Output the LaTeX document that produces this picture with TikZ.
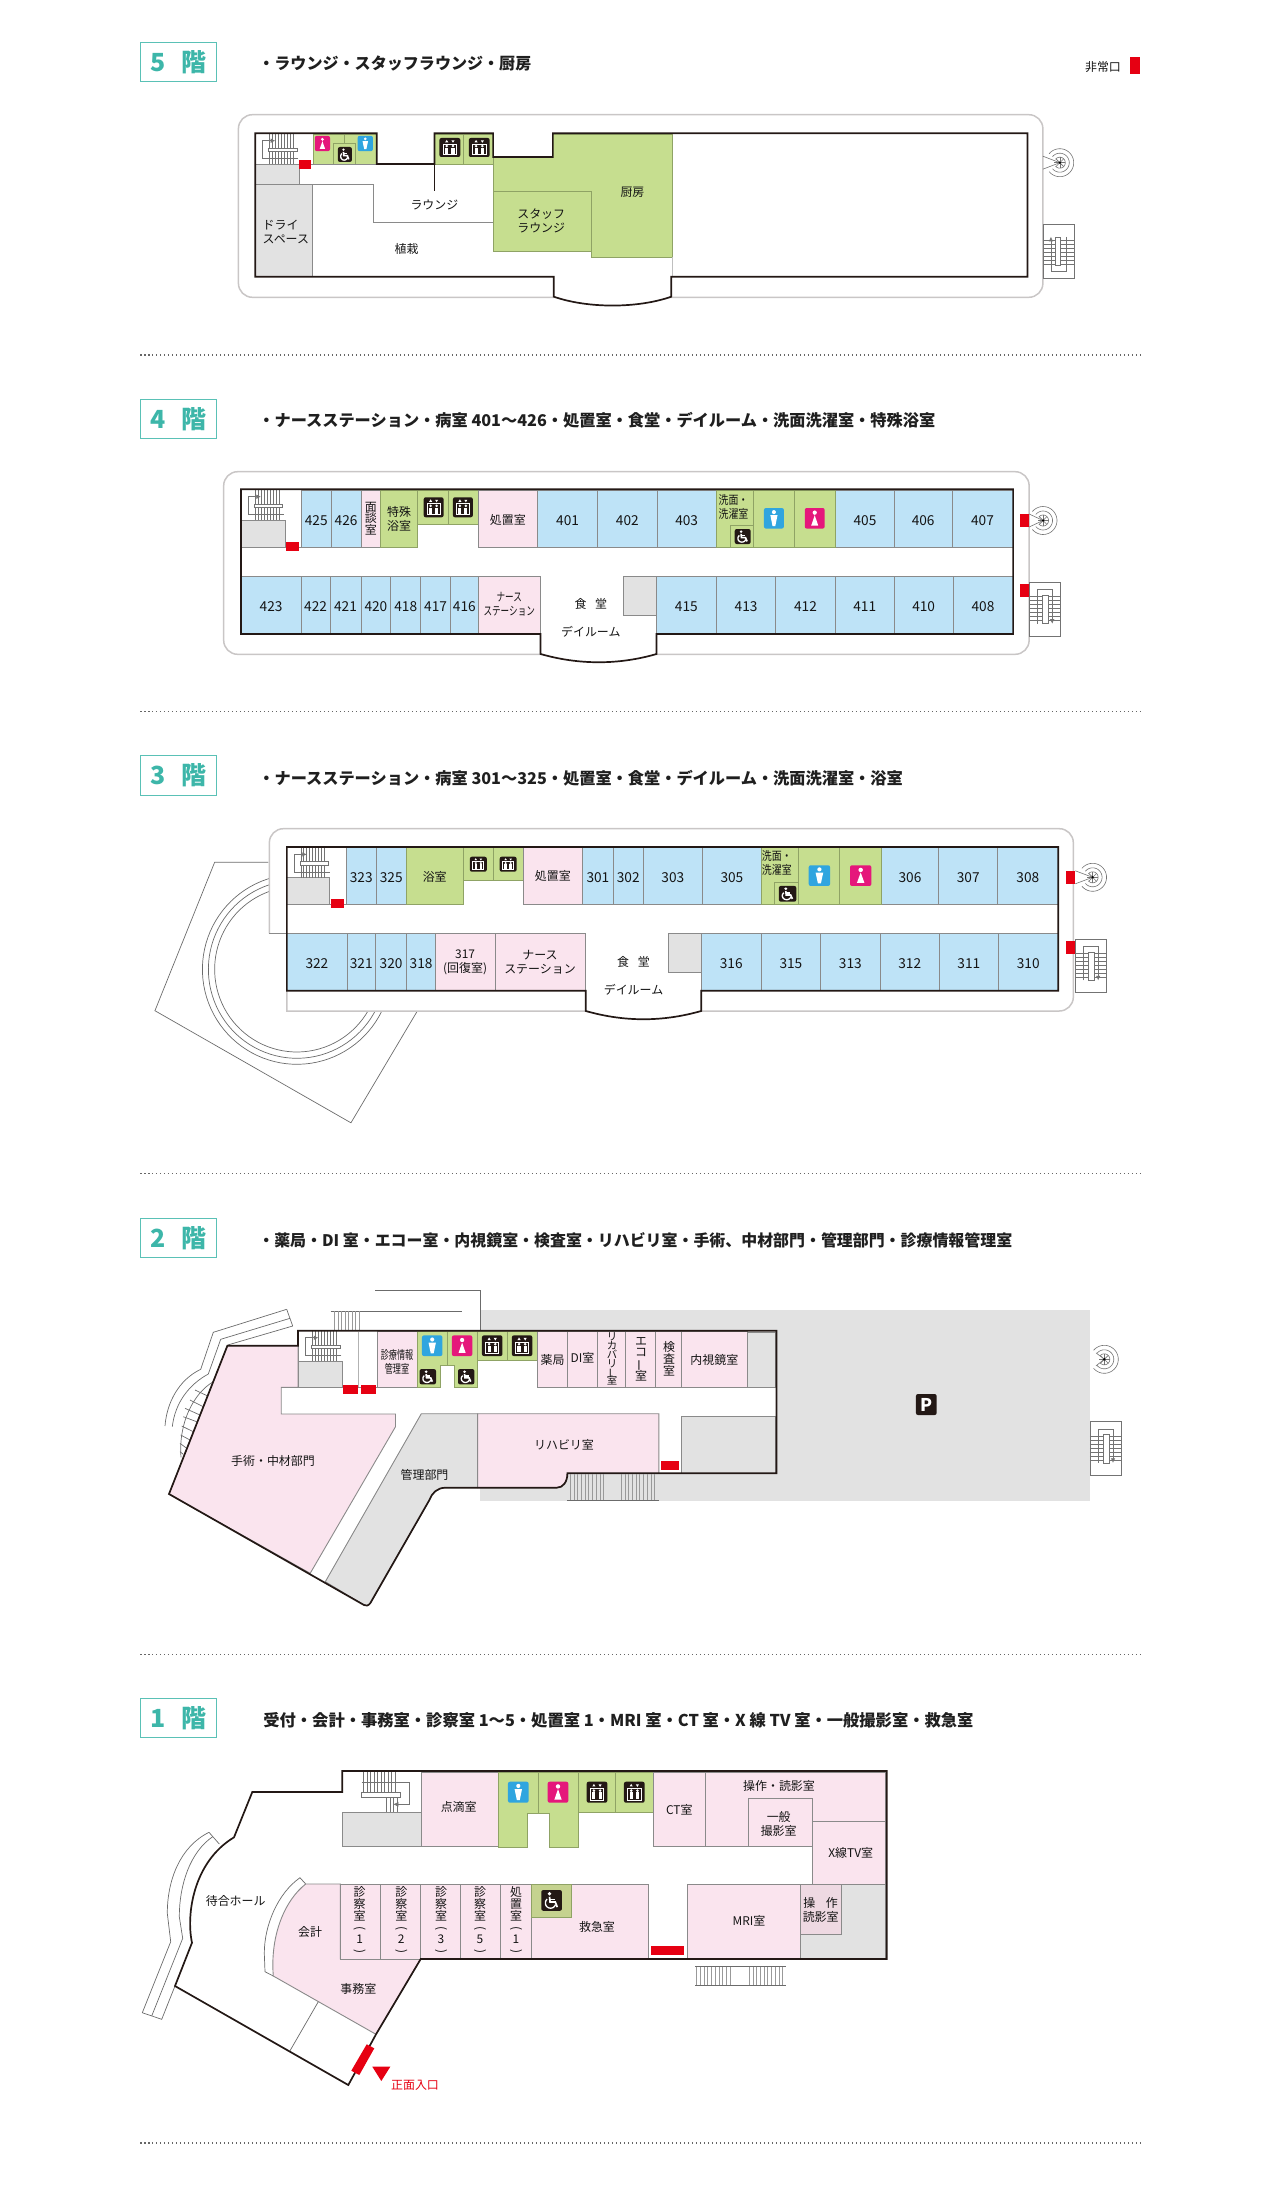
\documentclass[tikz,border=0pt]{standalone}
\usepackage{fontspec}
\setmainfont{Noto Sans CJK JP}
\usetikzlibrary{arrows.meta}

\definecolor{roomblue}{HTML}{BEE3F7}
\definecolor{roompink}{HTML}{FAE4EE}
\definecolor{roomgreen}{HTML}{C6DE8F}
\definecolor{edgegreen}{HTML}{8FA365}
\definecolor{roomgray}{HTML}{E2E2E2}
\definecolor{roomoper}{HTML}{EED9E2}
\definecolor{roomolive}{HTML}{C5D28F}
\definecolor{wallblack}{HTML}{231815}
\definecolor{wallgray}{HTML}{C9C6C6}
\definecolor{linegray}{HTML}{8A8A8A}
\definecolor{redmark}{HTML}{E60012}
\definecolor{badgeteal}{HTML}{3DB6A9}
\definecolor{manblue}{HTML}{2FA5DF}
\definecolor{womanpink}{HTML}{E5177B}

\newcommand{\tightfont}[2]{\fontsize{#1}{#2}\selectfont\lineskiplimit=-10pt\relax}
\newcommand{\vpl}{\rotatebox[origin=c]{270}{(}}
\newcommand{\vpr}{\rotatebox[origin=c]{270}{)}}
\newcommand{\vbar}{\rotatebox[origin=c]{90}{ー}}
\newcommand{\narrow}[2]{\scalebox{#1}[1]{#2}}

\tikzset{
  wall/.style={draw=wallblack,line width=0.034cm,line join=miter},
  outerwall/.style={draw=wallgray,line width=0.03cm},
  thinline/.style={draw=linegray,line width=0.018cm},
  stairline/.style={draw=black!55,line width=0.012cm},
  hatchline/.style={draw=black!40,line width=0.016cm},
  planline/.style={draw=black!58,line width=0.014cm},
  bluerm/.style={fill=roomblue,thinline},
  pinkrm/.style={fill=roompink,thinline},
  greenrm/.style={fill=roomgreen,draw=edgegreen,line width=0.016cm},
  grayrm/.style={fill=roomgray,thinline},
  redmk/.style={fill=redmark},
  lbl/.style={font=\tightfont{6.8}{8},inner sep=0pt,align=center,text=black!92},
  vlbl/.style={font=\tightfont{6.8}{6.7},inner sep=0pt,align=center,text=black!92},
  numlbl/.style={font=\fontsize{7.8}{8}\selectfont,inner sep=0pt,text=black!92},
  badgebox/.style={draw=badgeteal!85,line width=0.02cm},
  badgelbl/.style={font=\fontsize{14.2}{15}\bfseries\selectfont,text=badgeteal,inner sep=0pt},
  titlelbl/.style={font=\fontsize{#1}{10}\bfseries\selectfont,anchor=west,inner sep=0pt,text=black!88},
  sepline/.style={draw=black!60,line width=0.026cm,dash pattern=on 0.03cm off 0.05cm},
}

\newcommand{\manicon}[4]{\begin{scope}[shift={(#1,#2)},xscale=#3/20,yscale=#4/20]
  \fill[manblue,rounded corners=0.04cm] (-10,-10) rectangle (10,10);
  \fill[white] (0,-6) circle[radius=2];
  \fill[white] (-3.6,-3) -- (3.6,-3) -- (1.4,7.5) -- (-1.4,7.5) -- cycle;
\end{scope}}
\newcommand{\womanicon}[4]{\begin{scope}[shift={(#1,#2)},xscale=#3/20,yscale=#4/20]
  \fill[womanpink,rounded corners=0.04cm] (-10,-10) rectangle (10,10);
  \fill[white] (0,-5.5) circle[radius=2.1];
  \fill[white] (0,-3) -- (3.5,7) -- (-3.5,7) -- cycle;
\end{scope}}
\newcommand{\elevicon}[4]{\begin{scope}[shift={(#1,#2)},xscale=#3/20,yscale=#4/20]
  \fill[wallblack,rounded corners=0.04cm] (-10,-10) rectangle (10,10);
  \draw[white,line width=0.016cm] (-6.5,-3.5) rectangle (6.5,7.5);
  \foreach \fx in {-3,3} {
    \fill[white] (\fx,-1.5) circle[radius=1.4];
    \fill[white] (\fx-1.5,0.2) rectangle (\fx+1.5,6.5);
  }
  \fill[white] (-3,-8) -- (-1.5,-5.5) -- (-4.5,-5.5) -- cycle;
  \fill[white] (3,-5) -- (1.5,-7.5) -- (4.5,-7.5) -- cycle;
\end{scope}}
\newcommand{\wheelicon}[4]{\begin{scope}[shift={(#1,#2)},xscale=#3/20,yscale=#4/20]
  \fill[wallblack,rounded corners=0.04cm] (-10,-10) rectangle (10,10);
  \fill[white] (-2,-6.5) circle[radius=1.8];
  \draw[white,line width=0.034cm] (-2,-3.5) -- (-1.5,1.5) -- (3.5,1.5) -- (5.5,6.5);
  \draw[white,line width=0.026cm] (-1.8,-1) -- (3,-1);
  \draw[white,line width=0.026cm] plot[domain=130:340,samples=16] ({-1+5*cos(\x)},{2.5-5*sin(\x)});
\end{scope}}

% spiral stair: centre, x of the wall it opens to
\newcommand{\spiralstair}[3]{\begin{scope}[stairline]
  \foreach \rr in {14,9.5,5.5}
    \draw plot[domain=-140:140,samples=30] ({#1+\rr*cos(\x)},{#2+\rr*sin(\x)});
  \foreach \aa in {0,45,...,315}
    \draw (#1,#2) -- ({#1+5.5*cos(\aa)},{#2+5.5*sin(\aa)});
  \draw (#3,#2-6.5) -- (#1,#2) -- (#3,#2+6.5);
  \fill[black] (#1,#2) circle[radius=1.3];
\end{scope}}
% box stair: centre, extra scope options
\newcommand{\stairbox}[3]{\begin{scope}[shift={(#1,#2)},#3]
  \draw[stairline,fill=white] (-15.5,-26.6) rectangle (15.5,26.6);
  \foreach \dy in {-12.5,-8.5,...,11.5}
    \draw[stairline] (-15.5,\dy) -- (15.5,\dy);
  \draw[stairline,fill=white] (-2,-14) rectangle (3.5,14.5);
  \draw[stairline,-{Latex[length=0.09cm,width=0.09cm]}] (-7.5,14.5) -- (-7.5,-19.5) -- (7.7,-19.5) -- (7.7,14.5);
\end{scope}}
% stair in the top left corner of a floor
\newcommand{\stairtl}[2]{\begin{scope}[shift={(#1,#2)}]
  \foreach \dx in {14,17,...,38}
    \draw[stairline] (\dx,0) -- (\dx,30);
  \draw[stairline,fill=white] (13,14) rectangle (42,17.7);
  \draw[stairline,-{Latex[length=0.09cm,width=0.09cm]}] (43,24.3) -- (7,24.3) -- (7,6.7) -- (20,6.7);
\end{scope}}

\def\wallfive{(256,133.3) -- (378,133.3) -- (378,164) -- (436,164) -- (436,133.3) -- (495,133.3) -- (495,157) -- (555,157) -- (555,133.3) -- (1032,133.3) -- (1032,276.7) -- (674,276.7) -- (674,296.7) .. controls (640,308.5) and (590,308.5) .. (556,296.7) -- (556,276.7) -- (256,276.7) -- cycle}
\def\wallfour{(240.4,489.3) -- (1016.4,489.3) -- (1016.4,634) -- (658,634) -- (658,654) .. controls (620,665) and (580,665) .. (541.5,654) -- (541.5,634) -- (240.4,634) -- cycle}
\def\wallthree{(287.6,847) -- (1062.8,847) -- (1062.8,990.7) -- (704,990.7) -- (704,1011) .. controls (665,1022) and (627,1022) .. (588,1011) -- (588,990.7) -- (287.6,990.7) -- cycle}
\def\walltwo{(298,1330.7) -- (776.4,1330.7) -- (776.4,1473.3) -- (567.4,1473.3) .. controls (567.4,1482) and (563,1487.7) .. (556.8,1487.7) -- (445.7,1487.7) .. controls (437,1487.7) and (432,1493) .. (429.4,1500) -- (370.2,1603.3) .. controls (368,1606) and (366,1606) .. (364,1605) -- (169,1494) -- (227.4,1345.7) -- (298,1345.7) -- cycle}
\def\wallone{(342.3,1771) -- (886.7,1771) -- (886.7,1959) -- (420.7,1959) -- (376,2034.3) -- (348.3,2085) -- (175,1986) -- (192,1942.7) .. controls (186,1915) and (193,1862) .. (234,1837.3) -- (252.3,1792) -- (342.3,1792) -- cycle}

\begin{document}
\begin{tikzpicture}[x=0.02cm,y=-0.02cm]
\useasboundingbox (0,0) rectangle (1280,2200);

% badges, titles and dotted rules
\foreach \fl/\ya/\yb in {5/42.7/82,4/399/438.7,3/755.7/795,2/1218.3/1257.7,1/1698/1737.7} {
  \draw[badgebox] (140.4,\ya) rectangle (216.6,\yb);
  \node[badgelbl] (badge\fl) at (178.5,{(\ya+\yb)/2}) {\fl\hspace{8.5pt}階};
}
\foreach \yy in {355,711.6,1173.3,1654.7,2143}
  \draw[sepline] (140,\yy) -- (1140,\yy);
\node[titlelbl=9.14] (title5) at (258,64) {・ラウンジ・スタッフラウンジ・厨房};
\node[titlelbl=9.22] (title4) at (258,420.7) {・ナースステーション・病室 401～426・処置室・食堂・デイルーム・洗面洗濯室・特殊浴室};
\node[titlelbl=9.22] (title3) at (258,778.3) {・ナースステーション・病室 301～325・処置室・食堂・デイルーム・洗面洗濯室・浴室};
\node[titlelbl=9.07] (title2) at (258,1240) {・薬局・DI 室・エコー室・内視鏡室・検査室・リハビリ室・手術、中材部門・管理部門・診療情報管理室};
\node[titlelbl=9.27] (title1) at (263,1720.7) {受付・会計・事務室・診察室 1～5・処置室 1・MRI 室・CT 室・X 線 TV 室・一般撮影室・救急室};
\node[lbl] (legend) at (1103,66.7) {非常口};
\fill[redmk] (1130,57.3) rectangle (1140,74.3);

% 5th floor
\begin{scope}[shift={(0.62,0)},xscale=0.995]
\draw[outerwall,rounded corners=0.28cm] (239,114.7) rectangle (1047.5,297.3);
\fill[white] \wallfive;
\draw[greenrm] (314,134) rectangle (378,164);
\draw[greenrm] (346,134) -- (346,143);
\draw[greenrm] (334,143) rectangle (357,164);
\draw[greenrm] (436,134) rectangle (465,164);
\draw[greenrm] (465,134) rectangle (495,164);
\draw[greenrm] (495,157) -- (555,157) -- (555,134) -- (675,134) -- (675,257.3) -- (593.6,257.3) -- (593.6,251.3) -- (495,251.3) -- cycle;
\draw[greenrm] (495,191.7) rectangle (593.6,251.3);
\draw[grayrm] (256,184) rectangle (313,276.7);
\draw[grayrm] (256,164) rectangle (300,184);
\draw[thinline] (300,184) -- (375,184) -- (375,222.3) -- (495,222.3);
\draw[thinline] (300,164) -- (378,164);
\draw[draw=black!25,line width=0.018cm] (675,257.3) -- (675,276.7);
\draw[wallblack,line width=0.02cm] (436,164) -- (436,191);
\stairtl{256}{134}
\fill[redmk] (300,160) rectangle (312,169);
\womanicon{323.4}{143.5}{15.3}{15.3}
\manicon{366.5}{143.5}{15.3}{15.3}
\wheelicon{346}{154.5}{14}{15}
\elevicon{451.5}{147.5}{21}{19}
\elevicon{481}{147.5}{21}{19}
\draw[wall] \wallfive;
\spiralstair{1064.5}{162.7}{1047.5}
\stairbox{1063.3}{251.3}{xscale=-1,yscale=-1}
\node[lbl,anchor=west] (f5dryA) at (263,224.7) {ドライ};
\node[lbl,anchor=west] (f5dryB) at (263,239) {スペース};
\node[lbl] (f5lounge) at (436,205) {ラウンジ};
\node[lbl] (f5plant) at (408,249) {植栽};
\node[lbl] (f5staff) at (543.3,221.2) {スタッフ\\ラウンジ};
\node[lbl] (f5kitchen) at (635,192.7) {厨房};
\end{scope}

% 4th floor
\begin{scope}[shift={(1.8,0)},xscale=0.995]
\draw[outerwall,rounded corners=0.28cm] (223,471.7) rectangle (1032.5,654.3);
\fill[white] \wallfour;
\draw[thinline] (240.4,547.3) -- (301,547.3);
\draw[grayrm] (240.4,520.7) rectangle (284.8,547.3);
\foreach \xa/\xb/\num in {301/331/425,331/361/426,538.6/598.7/401,598.7/658.6/402,658.6/718/403,838/897/405,897/955/406,955/1016.3/407} {
  \draw[bluerm] (\xa,490) rectangle (\xb,547.3);
  \node[numlbl] (r\num) at ({(\xa+\xb)/2},520.3) {\num};
}
\foreach \xa/\xb/\num in {240.4/301/423,301/329.8/422,329.8/361/421,361/391/420,391/421/418,421/451/417,451/478.7/416,658/718/415,718/778/413,778/837.5/412,837.5/897/411,897/956/410,956/1016.3/408} {
  \draw[bluerm] (\xa,576.3) rectangle (\xb,633.3);
  \node[numlbl] (r\num) at ({(\xa+\xb)/2},606.3) {\num};
}
\draw[pinkrm] (361,490) rectangle (380.6,547.3);
\draw[greenrm] (380.6,490) rectangle (418,547.3);
\draw[greenrm] (418,490) rectangle (448.6,524);
\draw[greenrm] (448.6,490) rectangle (478.7,524);
\draw[pinkrm] (478.7,490) rectangle (538.6,547.3);
\draw[greenrm] (718,490) rectangle (755.6,547.3);
\draw[greenrm] (755.6,490) rectangle (797,547.3);
\draw[greenrm] (797,490) rectangle (838,547.3);
\draw[greenrm] (732,525) rectangle (755.6,547.3);
\draw[pinkrm] (478.7,576.3) rectangle (541.5,633.3);
\draw[grayrm] (625,576.3) rectangle (658,615.7);
\stairtl{240.4}{490}
\fill[redmk] (285.4,542) rectangle (298.7,551);
\elevicon{434}{507.3}{20}{20}
\elevicon{463.4}{507.3}{20}{20}
\manicon{776}{518.3}{20}{20.6}
\womanicon{817}{518.3}{20}{20.6}
\wheelicon{744.6}{536.5}{16}{15}
\draw[wall] \wallfour;
\fill[redmk] (1023.8,514) rectangle (1032.5,527);
\fill[redmk] (1023.8,583.7) rectangle (1032.5,597);
\spiralstair{1046.5}{520.5}{1032.5}
\stairbox{1048}{609.2}{}
\node[vlbl] (f4interview) at (370.8,518.5) {面\\談\\室};
\node[lbl] (f4bath) at (399.3,519) {特殊\\浴室};
\node[lbl] (f4treat) at (508.6,520) {処置室};
\node[lbl] (f4wash) at (735.4,507) {\narrow{0.83}{洗面・}\\\narrow{0.83}{洗濯室}};
\node[lbl] (f4nurse) at (510,604) {\narrow{0.72}{ナース}\\\narrow{0.72}{ステーション}};
\node[lbl] (f4dining) at (592,604) {食\hspace{5pt}堂};
\node[lbl] (f4dayroom) at (592,631.7) {デイルーム};
\end{scope}

% 3rd floor
\begin{scope}[shift={(0.71,0)},xscale=0.995]
\draw[planline] (269,862.3) -- (215,862.3) -- (155,1010.7) -- (352,1122.8) -- (418.3,1011.7);
\foreach \rr in {95,89,82.7}
  \draw[planline] plot[domain=90:345,samples=70] ({297.7+\rr*cos(\x)},{969.3-\rr*sin(\x)});
\fill[white] (270,828.7) -- (1078,828.7) -- (1078,1011) -- (287.6,1011) -- (287.6,933.3) -- (270,933.3) -- cycle;
\draw[outerwall] (270,933.3) -- (270,880) [rounded corners=0.28cm] -- (270,828.7) -- (1078,828.7) -- (1078,1011) -- (700,1011) [sharp corners] -- (287.6,1011) -- (287.6,990);
\draw[thinline] (270,933.3) -- (287.6,933.3);
\fill[white] \wallthree;
\draw[thinline] (287.6,904.3) -- (347.3,904.3);
\draw[grayrm] (287.6,877.3) rectangle (330.3,904.3);
\foreach \xa/\xb/\num in {347.3/377.5/323,377.5/407.6/325,584.8/615.6/301,615.6/645.7/302,645.7/705.4/303,705.4/764.4/305,885/942.8/306,942.8/1001.9/307,1001.9/1062.8/308} {
  \draw[bluerm] (\xa,847.7) rectangle (\xb,904.3);
  \node[numlbl] (r\num) at ({(\xa+\xb)/2},877.3) {\num};
}
\foreach \xa/\xb/\num in {287.6/348/322,348/376.8/321,376.8/408/320,408/437/318,704/764.4/316,764.4/824/315,824/883.8/313,883.8/943.5/312,943.5/1002.5/311,1002.5/1062.8/310} {
  \draw[bluerm] (\xa,933.3) rectangle (\xb,990);
  \node[numlbl] (r\num) at ({(\xa+\xb)/2},963.3) {\num};
}
\draw[greenrm] (407.6,847.7) rectangle (464.8,904.3);
\draw[greenrm] (464.8,847.7) rectangle (495,880.7);
\draw[greenrm] (495,847.7) rectangle (525,880.7);
\draw[pinkrm] (525,847.7) rectangle (584.8,904.3);
\draw[greenrm] (764.4,847.7) rectangle (802,904.3);
\draw[greenrm] (802,847.7) rectangle (843,904.3);
\draw[greenrm] (843,847.7) rectangle (885,904.3);
\draw[greenrm] (778,882.3) rectangle (802,904.3);
\draw[pinkrm] (437,933.3) rectangle (497.5,990);
\draw[pinkrm] (497.5,933.3) rectangle (588,990);
\draw[grayrm] (671.4,933.3) rectangle (704,972.3);
\stairtl{287.6}{847.7}
\fill[redmk] (332,899) rectangle (344.8,907.7);
\elevicon{480}{864.2}{17}{15}
\elevicon{510}{864.2}{17}{15}
\manicon{822.8}{875.6}{21.5}{20.7}
\womanicon{864.3}{875.6}{21.5}{20.7}
\wheelicon{790.8}{893.8}{17.6}{15.7}
\draw[wall] \wallthree;
\fill[redmk] (1070.4,870.7) rectangle (1080,884);
\fill[redmk] (1070.4,940.7) rectangle (1080,953.7);
\spiralstair{1097.4}{877.3}{1080}
\stairbox{1095.3}{965.8}{}
\node[lbl] (f3bath) at (436.2,876.7) {浴室};
\node[lbl] (f3treat) at (554.9,876) {処置室};
\node[lbl] (f3wash) at (780,863) {\narrow{0.83}{洗面・}\\\narrow{0.83}{洗濯室}};
\node[lbl] (f3recov) at (466.7,962.7) {317\\(回復室)};
\node[lbl] (f3nurse) at (542,962.2) {ナース\\ステーション};
\node[lbl] (f3dining) at (636,962) {食\hspace{5pt}堂};
\node[lbl] (f3dayroom) at (636,990) {デイルーム};
\end{scope}

% 2nd floor
\fill[roomgray] (480.4,1309.7) rectangle (1090,1500.7);
\draw[planline] (375,1290.3) -- (480.4,1290.3) -- (480.4,1330.7);
\draw[planline] (330.6,1311.3) -- (462,1311.3);
\foreach \hx in {334.5,338,...,360}
  \draw[hatchline] (\hx,1311.3) -- (\hx,1330.7);
\draw[planline] (286.7,1309.3) -- (213.3,1332.3) -- (200.7,1369.3) .. controls (178.3,1380) and (166.7,1403.3) .. (165,1426);
\draw[planline] (290,1318.3) -- (220.7,1339.3) -- (208.3,1374) .. controls (188.3,1385) and (175,1403.3) .. (172.3,1426.7);
\draw[planline] (292.7,1326) -- (227.7,1345);
\draw[planline] (286.7,1309.3) -- (292.7,1326);
\draw[planline] (213.3,1381.7) .. controls (193.3,1393.3) and (178.3,1423.3) .. (181,1457.3);
\foreach \ax/\ay/\bx/\by in {195/1390/207.7/1396,190/1400/203.3/1406.7,185/1408.3/200/1415,183.3/1416.7/196.7/1421.7,181.7/1426/193.3/1431.7,180.7/1435/190/1440,180/1443.3/186.7/1448.3,180/1451.7/183.3/1454.3}
  \draw[planline] (\ax,\ay) -- (\bx,\by);
\fill[white] \walltwo;
\draw[pinkrm] (227.4,1345.7) -- (298,1345.7) -- (298,1387.3) -- (281.2,1387.3) -- (281.2,1414) -- (395.5,1414) -- (395.5,1426.7) -- (310.2,1573.3) -- (169,1494) -- cycle;
\draw[grayrm] (421.3,1413.7) -- (477.6,1413.7) -- (477.6,1487.7) -- (445.7,1487.7) .. controls (437,1487.7) and (432,1493) .. (429.4,1500) -- (370.2,1603.3) .. controls (368,1606) and (366,1606) .. (364,1605) -- (325.3,1581.7) -- cycle;
\draw[pinkrm] (477.6,1413.7) -- (658.8,1413.7) -- (658.8,1473.3) -- (567.4,1473.3) .. controls (567.4,1482) and (563,1487.7) .. (556.8,1487.7) -- (477.6,1487.7) -- cycle;
\draw[grayrm] (681.3,1416.3) rectangle (775.6,1473.3);
\draw[thinline] (658.8,1473.3) -- (681.3,1473.3);
\draw[grayrm] (747.8,1332) rectangle (775.6,1387.3);
\draw[thinline] (342,1387.3) -- (377.6,1387.3);
\draw[thinline,draw=black!30] (358.8,1332) -- (358.8,1387.3);
\draw[grayrm] (298.8,1361.7) rectangle (342,1387.3);
\draw[pinkrm] (377.6,1331.7) rectangle (417.6,1387.3);
\draw[greenrm] (417.6,1331.7) -- (537.6,1331.7) -- (537.6,1360.3) -- (477.6,1360.3) -- (477.6,1387.3) -- (454.7,1387.3) -- (454.7,1365.7) -- (440,1365.7) -- (440,1387.3) -- (417.6,1387.3) -- cycle;
\draw[greenrm] (447.8,1331.7) -- (447.8,1365.7);
\draw[greenrm] (477.6,1331.7) -- (477.6,1360.3);
\draw[greenrm] (507.8,1331.7) -- (507.8,1360.3);
\foreach \xa/\xb in {537.6/567.4,567.4/597.6,597.6/625.8,625.8/655.6,655.6/681.3,681.3/747.8}
  \draw[pinkrm] (\xa,1331.7) rectangle (\xb,1387.3);
\stairtl{298.3}{1331}
\draw[thinline] (298.3,1345.7) -- (298.3,1361.7);
\fill[redmk] (342.9,1385) rectangle (358,1393.7);
\fill[redmk] (360.8,1385) rectangle (376,1393.7);
\fill[redmk] (660.5,1460.7) rectangle (679.2,1469.7);
\manicon{432.2}{1345.7}{20.5}{20.7}
\womanicon{462.1}{1345.7}{20.5}{20.7}
\elevicon{492.2}{1345.7}{20.5}{20.7}
\elevicon{522.1}{1345.7}{20.5}{20.7}
\wheelicon{427.8}{1376.7}{16.4}{15.3}
\wheelicon{466.2}{1376.7}{16.4}{15.3}
\draw[wall] \walltwo;
\foreach \hx in {570.3,574,...,606}
  \draw[hatchline] (\hx,1474) -- (\hx,1500.7);
\foreach \hx in {621.3,625,...,657}
  \draw[hatchline] (\hx,1474) -- (\hx,1500.7);
\draw[planline] (567,1500.7) -- (659,1500.7);
\spiralstair{1104.3}{1359.3}{1096}
\stairbox{1105.3}{1448.3}{}
\node[lbl] (f2records) at (397,1362.3) {\narrow{0.68}{診療情報}\\\narrow{0.68}{管理室}};
\node[lbl] (f2pharm) at (552.5,1359.7) {薬局};
\node[lbl] (f2di) at (582.5,1357.7) {DI室};
\node[vlbl,font=\tightfont{5.9}{4.95}] (f2recover) at (612,1359) {リ\\カ\\バ\\リ\\\vbar\\室};
\node[vlbl] (f2echo) at (641,1359) {エ\\コ\\\vbar\\室};
\node[vlbl] (f2exam) at (669,1359) {検\\査\\室};
\node[lbl] (f2endo) at (714.3,1359.7) {内視鏡室};
\node[lbl] (f2rehab) at (564,1444.3) {リハビリ室};
\node[lbl] (f2surgery) at (273,1461.3) {手術・中材部門};
\node[lbl] (f2admin) at (424.5,1475) {管理部門};
\node[fill=wallblack,rounded corners=0.04cm,minimum width=0.414cm,minimum height=0.42cm,inner sep=0pt,text=white,font=\fontsize{10}{10}\bfseries\selectfont] (parking) at (926.3,1404.5) {P};

% 1st floor
\draw[planline] (209,1832.3) .. controls (180,1846.7) and (167.3,1880) .. (167.3,1913.3) -- (170.7,1941.7) -- (142.3,2012.7) -- (161.7,2019.3) -- (175,1986);
\draw[planline] (212.7,1836.7) .. controls (190,1852) and (179.3,1885) .. (179.3,1916.7) -- (182.7,1938.3) -- (151.7,2016);
\draw[planline] (209,1832.3) -- (219.3,1844);
\fill[white] \wallone;
\draw[planline] (300,1877.7) .. controls (278,1893) and (264.3,1925) .. (264.3,1953.3) -- (265,1971.7) -- (273.3,1976);
\draw[planline] (300,1877.7) -- (305.7,1884);
\draw[pinkrm] (305.7,1884) -- (340.3,1884) -- (340.3,1959) -- (420.7,1959) -- (376,2034.3) -- (273.3,1976) .. controls (270,1935) and (285,1900) .. (305.7,1884);
\draw[planline] (318.3,2001.7) -- (290,2050.7);
\foreach \xa/\xb in {340.3/380.7,380.7/420.7,420.7/460.7,460.7/500.7,500.7/531.7}
  \draw[pinkrm] (\xa,1884) rectangle (\xb,1959);
\draw[pinkrm] (531.7,1884) rectangle (648.7,1959);
\draw[fill=roomolive,draw=edgegreen,line width=0.016cm] (531.7,1884) rectangle (571.7,1917.7);
\draw[pinkrm] (687.3,1884) rectangle (800.7,1959);
\draw[grayrm] (800.7,1884) rectangle (885.7,1958.3);
\draw[thinline,fill=roomoper] (800.7,1884) rectangle (841.7,1934.3);
\draw[grayrm] (342,1812.3) rectangle (421,1846.7);
\draw[pinkrm] (421.7,1772.3) rectangle (498,1846.7);
\draw[greenrm] (498,1772.3) -- (653,1772.3) -- (653,1812.7) -- (578,1812.7) -- (578,1847.3) -- (549.3,1847.3) -- (549.3,1813.3) -- (527.3,1813.3) -- (527.3,1847.3) -- (498,1847.3) -- cycle;
\draw[greenrm] (538.3,1772.3) -- (538.3,1813.3);
\draw[greenrm] (578,1772.3) -- (578,1812.7);
\draw[greenrm] (615.7,1772.3) -- (615.7,1812.7);
\draw[pinkrm] (653,1772.3) rectangle (705.3,1846.3);
\draw[pinkrm] (705.3,1772.3) -- (885.7,1772.3) -- (885.7,1821.3) -- (812.3,1821.3) -- (812.3,1846.3) -- (705.3,1846.3) -- cycle;
\draw[pinkrm] (748,1798.3) rectangle (812.3,1846.3);
\draw[pinkrm] (812.3,1821.3) rectangle (885.7,1884);
\foreach \hx in {363.3,366.8,...,395}
  \draw[stairline] (\hx,1772.3) -- (\hx,1793);
\foreach \hx in {386.7,390.2,...,398.3}
  \draw[stairline] (\hx,1798.3) -- (\hx,1812.3);
\draw[stairline,fill=white] (361.7,1792.7) rectangle (400,1797.3);
\draw[stairline,-{Latex[length=0.1cm,width=0.1cm]}] (361.7,1782.7) -- (409.3,1782.7) -- (409.3,1804.3) -- (393.3,1804.3);
\fill[redmk] (651.3,1946) rectangle (684,1955);
\manicon{518.3}{1792.2}{20.7}{21}
\womanicon{558}{1792.2}{20.7}{21}
\elevicon{597}{1792.2}{20.7}{21}
\elevicon{634.3}{1792.2}{20.7}{21}
\wheelicon{551.6}{1900.4}{20.7}{20.7}
\draw[wall] \wallone;
\fill[redmk] (366.7,2044.3) -- (374.3,2048.3) -- (359.3,2075) -- (351.3,2070.7) -- cycle;
\fill[redmk] (372.3,2066.7) -- (390.3,2066.7) -- (381.3,2081) -- cycle;
\foreach \hx in {696.7,700.4,...,733.3}
  \draw[hatchline] (\hx,1966.7) -- (\hx,1985.7);
\foreach \hx in {749.3,753,...,786}
  \draw[hatchline] (\hx,1966.7) -- (\hx,1985.7);
\draw[planline] (695,1966.7) -- (786,1966.7);
\draw[planline] (695,1985.7) -- (786,1985.7);
\node[lbl] (f1drip) at (458.7,1807.3) {点滴室};
\node[lbl] (f1hall) at (235.7,1901.3) {待合ホール};
\node[lbl] (f1cashier) at (310,1932.3) {会計};
\node[lbl] (f1office) at (358.3,1989) {事務室};
\node[vlbl] (f1examA) at (359.7,1921) {診\\察\\室\\\vpl\\1\\\vpr};
\node[vlbl] (f1examB) at (401.3,1921) {診\\察\\室\\\vpl\\2\\\vpr};
\node[vlbl] (f1examC) at (441,1921) {診\\察\\室\\\vpl\\3\\\vpr};
\node[vlbl] (f1examD) at (480,1921) {診\\察\\室\\\vpl\\5\\\vpr};
\node[vlbl] (f1treat) at (516,1921) {処\\置\\室\\\vpl\\1\\\vpr};
\node[lbl] (f1emerg) at (597,1926.7) {救急室};
\node[lbl] (f1mri) at (749,1921) {MRI室};
\node[lbl] (f1ct) at (679.3,1809.3) {CT室};
\node[lbl] (f1read) at (779,1785.7) {操作・読影室};
\node[lbl] (f1general) at (778.7,1823.7) {一般\\撮影室};
\node[lbl] (f1xtv) at (850.7,1853.3) {X線TV室};
\node[lbl] (f1oper) at (820.7,1910) {操\hspace{6pt}作\\読影室};
\node[lbl,text=redmark] (entrance) at (415,2085) {正面入口};
\end{tikzpicture}
\end{document}
